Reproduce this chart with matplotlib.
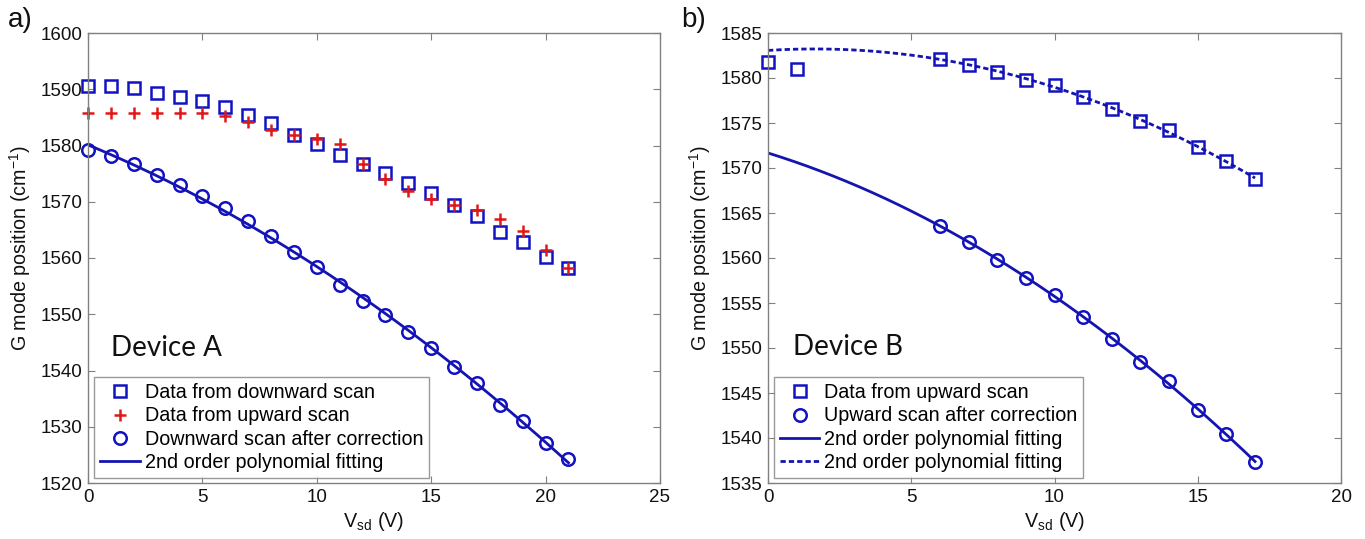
import numpy as np
import matplotlib
matplotlib.use("Agg")
import matplotlib.pyplot as plt

# ---------------- data ----------------
# Panel a (Device A)
xa = list(range(0, 22))
a_down = [1590.5, 1590.5, 1590.3, 1589.4, 1588.7, 1587.9, 1586.8, 1585.4, 1584.0, 1581.9,
          1580.3, 1578.4, 1576.7, 1575.2, 1573.3, 1571.6, 1569.4, 1567.4, 1564.6, 1562.9,
          1560.1, 1558.2]
a_up = [1585.7, 1585.7, 1585.7, 1585.7, 1585.7, 1585.7, 1585.3, 1584.2, 1582.8, 1581.9,
        1581.2, 1580.2, 1576.7, 1574.1, 1572.0, 1570.5, 1569.5, 1568.5, 1566.9, 1564.8,
        1561.5, 1558.3]
a_corr = [1579.2, 1578.1, 1576.7, 1574.7, 1573.0, 1571.1, 1568.9, 1566.6, 1564.0, 1561.0,
          1558.4, 1555.2, 1552.4, 1549.8, 1546.8, 1544.0, 1540.7, 1537.7, 1533.8, 1531.0,
          1527.2, 1524.3]

# Panel b (Device B)
xb_up = [0, 1, 6, 7, 8, 9, 10, 11, 12, 13, 14, 15, 16, 17]
b_up = [1581.8, 1581.0, 1582.1, 1581.5, 1580.7, 1579.8, 1579.2, 1577.9, 1576.6, 1575.2,
        1574.2, 1572.3, 1570.8, 1568.8]
xb_corr = [6, 7, 8, 9, 10, 11, 12, 13, 14, 15, 16, 17]
b_corr = [1563.6, 1561.8, 1559.8, 1557.8, 1555.9, 1553.5, 1551.0, 1548.4, 1546.3, 1543.1,
          1540.5, 1537.3]

xticks_a = [0, 5, 10, 15, 20, 25]
yticks_a = [1520, 1530, 1540, 1550, 1560, 1570, 1580, 1590, 1600]
xticks_b = [0, 5, 10, 15, 20]
yticks_b = [1535, 1540, 1545, 1550, 1555, 1560, 1565, 1570, 1575, 1580, 1585]

# ---------------- style ----------------
plt.rcParams['font.family'] = ['Liberation Sans', 'DejaVu Sans']
plt.rcParams['mathtext.default'] = 'regular'

BLUE = '#1212c4'
LINEBLUE = '#1414b0'
RED = '#e01818'
GRAY = '#808080'
TFS = 13.5
LFS = 14.2

fig = plt.figure(figsize=(13.65, 5.39), dpi=100)
axA = fig.add_axes([88/1365, 56/539, 572/1365, 450/539])
axB = fig.add_axes([768/1365, 56/539, 573/1365, 450/539])


def style(ax, xt, yt, xlim, ylim):
    ax.set_xlim(*xlim)
    ax.set_ylim(*ylim)
    ax.set_xticks(xt)
    ax.set_yticks(yt)
    ax.tick_params(direction='in', top=True, right=True, length=5, width=0.8,
                   color=GRAY, labelsize=TFS, labelcolor='#111111', pad=4)
    for s in ax.spines.values():
        s.set_color(GRAY)
        s.set_linewidth(1.0)
    ax.set_xlabel('V$_{sd}$ (V)', fontsize=LFS, color='#111111', labelpad=3)
    ax.set_ylabel('G mode position (cm$^{-1}$)', fontsize=LFS, color='#111111')
    ax.yaxis.set_label_coords(-0.096, 0.522)


def leg(ax, x0):
    lg = ax.legend(loc='lower left', bbox_to_anchor=(x0, 0.011), borderaxespad=0,
                   fontsize=LFS, frameon=True, fancybox=False, edgecolor=GRAY,
                   handlelength=2.0, handletextpad=0.25, labelspacing=0.22, borderpad=0.3)
    lg.get_frame().set_linewidth(1.0)
    return lg


# ---- Panel a ----
ca = np.polyfit(xa, a_corr, 2)
xfa = np.linspace(min(xa), max(xa), 300)
axA.plot(xa, a_down, linestyle='none', marker='s', ms=8, mfc='none', mec=BLUE, mew=1.8,
         label='Data from downward scan', clip_on=False)
axA.plot(xa, a_up, linestyle='none', marker='+', ms=9, mec=RED, mew=1.8,
         label='Data from upward scan', clip_on=False)
axA.plot(xa, a_corr, linestyle='none', marker='o', ms=9, mfc='none', mec=BLUE, mew=1.8,
         label='Downward scan after correction', clip_on=False)
axA.plot(xfa, np.polyval(ca, xfa), color=LINEBLUE, lw=2.0,
         label='2nd order polynomial fitting')
style(axA, xticks_a, yticks_a, (0, 25), (1520, 1600))
axA.text(1.0, 1542.6, 'Device A', fontsize=20, family=['Lato', 'DejaVu Sans'], color='#111111')
leg(axA, 0.011)
fig.text(8/1365, 1 - 20/539, 'a)', fontsize=20, va='center', ha='left', color='#111111')

# ---- Panel b ----
cb_up = np.polyfit(xb_up[2:], b_up[2:], 2)
cb_corr = np.polyfit(xb_corr, b_corr, 2)
xfb = np.linspace(0, max(xb_up), 300)
axB.plot(xb_up, b_up, linestyle='none', marker='s', ms=8, mfc='none', mec=BLUE, mew=1.8,
         label='Data from upward scan', clip_on=False)
axB.plot(xb_corr, b_corr, linestyle='none', marker='o', ms=9, mfc='none', mec=BLUE, mew=1.8,
         label='Upward scan after correction', clip_on=False)
axB.plot(xfb, np.polyval(cb_corr, xfb), color=LINEBLUE, lw=2.0,
         label='2nd order polynomial fitting')
axB.plot(xfb, np.polyval(cb_up, xfb), color=LINEBLUE, lw=2.0, linestyle=(0, (1.9, 1.1)),
         label='2nd order polynomial fitting')
style(axB, xticks_b, yticks_b, (0, 20), (1535, 1585))
axB.text(0.87, 1549.2, 'Device B', fontsize=20, family=['Lato', 'DejaVu Sans'], color='#111111')
leg(axB, 0.0105)
fig.text(681/1365, 1 - 20/539, 'b)', fontsize=20, va='center', ha='left', color='#111111')

fig.savefig('out.png', dpi=100, facecolor='white')
